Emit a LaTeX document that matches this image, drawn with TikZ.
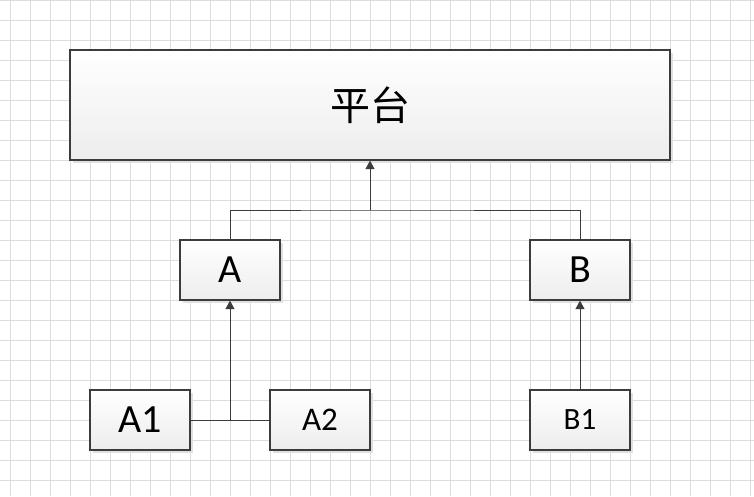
\documentclass[tikz,border=0pt]{standalone}
\usepackage{fontspec}
\setmainfont{Carlito}
\newfontfamily\cjk{Noto Sans CJK SC}
\usetikzlibrary{arrows.meta,shadows}
\definecolor{gridc}{HTML}{DCDCDC}
\definecolor{edgec}{HTML}{3C3C3C}
\definecolor{botc}{HTML}{EDEDED}
\tikzset{
  gridline/.style={draw=gridc, line width=1pt},
  boxnode/.style={draw=edgec, line width=1.3pt, top color=white, bottom color=botc,
    inner sep=0pt, text=black,
    drop shadow={shadow xshift=2.5pt, shadow yshift=-2.5pt, fill=black!12, opacity=1}},
  conn/.style={draw=edgec, line width=1pt},
  arr/.style={conn, -{Triangle[length=8.5pt,width=9pt]}},
}
\begin{document}
\begin{tikzpicture}[x=1pt,y=-1pt]
\useasboundingbox (0,0) rectangle (754,496);
\fill[white] (0,0) rectangle (754,496);
\foreach \x in {10,30,...,750} \draw[gridline] (\x,0) -- (\x,496);
\foreach \y in {0,20,...,480} \draw[gridline] (0,\y) -- (754,\y);

\node[boxnode, minimum width=600pt, minimum height=110pt, font=\cjk\fontsize{40}{44}\selectfont] (plat) at (370,105) {平台};
\node[boxnode, minimum width=100pt, minimum height=60pt, font=\fontsize{40}{44}\selectfont] (A) at (230,270) {A};
\node[boxnode, minimum width=100pt, minimum height=60pt, font=\fontsize{40}{44}\selectfont] (B) at (580,270) {B};
\node[boxnode, minimum width=100pt, minimum height=60pt, font=\fontsize{40}{44}\selectfont] (A1) at (140,420) {A1};
\node[boxnode, minimum width=100pt, minimum height=60pt, font=\fontsize{33}{36}\selectfont] (A2) at (320,420) {A2};
\node[boxnode, minimum width=100pt, minimum height=60pt, font=\fontsize{31}{34}\selectfont] (B1) at (580,420) {B1};

\coordinate (j) at (370,210);
\coordinate (k) at (230,420);
\draw[conn] (A.north) |- (j) -| (B.north);
\draw[arr] (j) -- (plat.south);
\draw[conn] (A1.east) -- (A2.west);
\draw[arr] (k) -- (A.south);
\draw[arr] (B1.north) -- (B.south);
\end{tikzpicture}
\end{document}
